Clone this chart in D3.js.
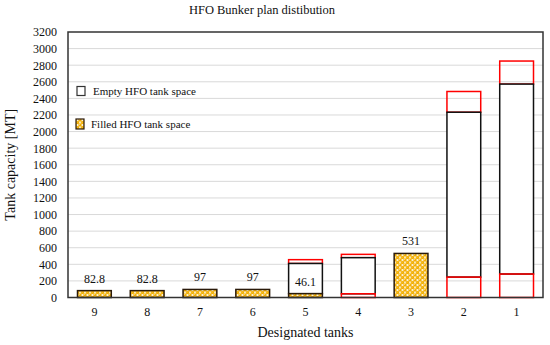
<!DOCTYPE html>
<html>
<head>
<meta charset="utf-8">
<script src="https://cdn.jsdelivr.net/npm/d3@7/dist/d3.min.js"></script>
<style>
  body { margin: 0; background: #fff; }
  svg text { font-family: "Liberation Serif", "DejaVu Serif", serif !important; fill: #111; }
</style>
</head>
<body>
<svg id="chart"></svg>
<script>
// tanks, left to right
var tanks = ["9", "8", "7", "6", "5", "4", "3", "2", "1"];
// filled HFO (MT)
var filled = [82.8, 82.8, 97, 97, 46.1, 0, 531, 0, 0];
// lower red segment (unpumpable bottom)
var bottomPart = [0, 0, 0, 0, 0, 45, 0, 246, 283];
// top of empty space (black box top)
var emptyTop = [0, 0, 0, 0, 410, 480, 0, 2233, 2572];
// total capacity (red box top)
var capacity = [0, 0, 0, 0, 456, 520, 0, 2483, 2850];
var yTicks = d3.range(0, 3201, 200);

var W = 550, H = 345;
var m = {left: 68, right: 7, top: 32, bottom: 47.5};
var serif = '"Liberation Serif", "DejaVu Serif", serif';

var svg = d3.select('#chart').attr('width', W).attr('height', H)
	.attr('font-family', serif);

var defs = svg.append('defs');
var pat = defs.append('pattern')
	.attr('id', 'dots')
	.attr('width', 5).attr('height', 5)
	.attr('patternUnits', 'userSpaceOnUse');
pat.append('rect').attr('width', 5).attr('height', 5).attr('fill', '#fff');
[[0, 0], [5, 0], [0, 5], [5, 5], [2.5, 2.5]].forEach(function(p){
	pat.append('circle').attr('cx', p[0]).attr('cy', p[1]).attr('r', 1.8).attr('fill', '#f2ad00');
	pat.append('circle').attr('cx', p[0] - 0.5).attr('cy', p[1] - 0.5).attr('r', 0.6).attr('fill', '#ffd966');
});

var x = d3.scaleBand()
	.domain(tanks)
	.range([m.left, W - m.right])
	.paddingInner(0.36)
	.paddingOuter(0.18);

var y = d3.scaleLinear()
	.domain([0, 3200])
	.range([H - m.bottom, m.top]);

// grid
svg.append('g').selectAll('line')
	.data(yTicks.slice(1, -1))
	.enter().append('line')
	.attr('x1', m.left).attr('x2', W - m.right)
	.attr('y1', (d) => y(d)).attr('y2', (d) => y(d))
	.attr('stroke', '#d9d9d9').attr('stroke-width', 1);

// y axis labels
var yAxis = d3.axisLeft(y).tickValues(yTicks).tickFormat(d3.format('d')).tickSize(0).tickPadding(11);
var gy = svg.append('g').attr('transform', 'translate(' + m.left + ',0)').call(yAxis)
	.attr('font-family', serif).attr('font-size', 12);
gy.select('.domain').remove();
gy.selectAll('text').attr('fill', '#111');

// x axis labels
var xAxis = d3.axisBottom(x).tickSize(0).tickPadding(10);
var gx = svg.append('g').attr('transform', 'translate(0,' + (H - m.bottom) + ')').call(xAxis)
	.attr('font-family', serif).attr('font-size', 12);
gx.select('.domain').remove();
gx.selectAll('text').attr('fill', '#111');

var data = tanks.map(function(t, i){
	return {tank: t, filled: filled[i], bottom: bottomPart[i], empty: emptyTop[i], cap: capacity[i]};
});

var bars = svg.append('g');
var bw = x.bandwidth();

// red top segment
bars.selectAll('.capTop')
	.data(data.filter((d) => d.cap > 0))
	.enter().append('rect')
	.attr('x', (d) => x(d.tank)).attr('width', bw)
	.attr('y', (d) => y(d.cap)).attr('height', (d) => y(d.empty) - y(d.cap))
	.attr('fill', 'none').attr('stroke', '#ff0000').attr('stroke-width', 1.5);

// black empty segment
bars.selectAll('.empty')
	.data(data.filter((d) => d.empty > 0))
	.enter().append('rect')
	.attr('x', (d) => x(d.tank)).attr('width', bw)
	.attr('y', (d) => y(d.empty))
	.attr('height', (d) => y(Math.max(d.bottom, d.filled)) - y(d.empty))
	.attr('fill', '#fff').attr('stroke', '#111').attr('stroke-width', 1.5);

// red bottom segment
bars.selectAll('.bottom')
	.data(data.filter((d) => d.bottom > 0))
	.enter().append('rect')
	.attr('x', (d) => x(d.tank)).attr('width', bw)
	.attr('y', (d) => y(d.bottom)).attr('height', (d) => y(0) - y(d.bottom))
	.attr('fill', 'none').attr('stroke', '#ff0000').attr('stroke-width', 1.5);

// filled segment
bars.selectAll('.filled')
	.data(data.filter((d) => d.filled > 0))
	.enter().append('rect')
	.attr('x', (d) => x(d.tank)).attr('width', bw)
	.attr('y', (d) => y(d.filled)).attr('height', (d) => y(0) - y(d.filled))
	.attr('fill', 'url(#dots)').attr('stroke', '#2a1a0a').attr('stroke-width', 1.5);

// value labels
svg.append('g').selectAll('text')
	.data(data.filter((d) => d.filled > 0))
	.enter().append('text')
	.attr('x', (d) => x(d.tank) + bw / 2)
	.attr('y', (d) => y(d.filled) - 8)
	.attr('text-anchor', 'middle')
	.attr('font-size', 12)
	.text((d) => d.filled);

// plot frame
svg.append('rect')
	.attr('x', m.left).attr('y', m.top)
	.attr('width', W - m.right - m.left).attr('height', H - m.bottom - m.top)
	.attr('fill', 'none').attr('stroke', '#333').attr('stroke-width', 1.5);

// legend
var lg = svg.append('g');
lg.append('rect').attr('x', 77).attr('y', 86.5).attr('width', 8).attr('height', 9)
	.attr('fill', '#fff').attr('stroke', '#333').attr('stroke-width', 1.2);
lg.append('text').attr('x', 93).attr('y', 95).attr('font-size', 11).text('Empty HFO tank space');
lg.append('rect').attr('x', 76).attr('y', 119).attr('width', 8).attr('height', 10)
	.attr('fill', 'url(#dots)').attr('stroke', '#2a1a0a').attr('stroke-width', 1.2);
lg.append('text').attr('x', 91).attr('y', 128).attr('font-size', 11).text('Filled HFO tank space');

// titles
svg.append('text').attr('x', 262).attr('y', 14).attr('text-anchor', 'middle')
	.attr('font-size', 12.5).text('HFO Bunker plan distibution');
svg.append('text').attr('x', (m.left + W - m.right) / 2).attr('y', 337).attr('text-anchor', 'middle')
	.attr('font-size', 14).text('Designated tanks');
svg.append('text')
	.attr('transform', 'translate(15,' + ((m.top + H - m.bottom) / 2) + ') rotate(-90)')
	.attr('text-anchor', 'middle')
	.attr('font-size', 14).text('Tank capacity [MT]');
</script>
</body>
</html>
